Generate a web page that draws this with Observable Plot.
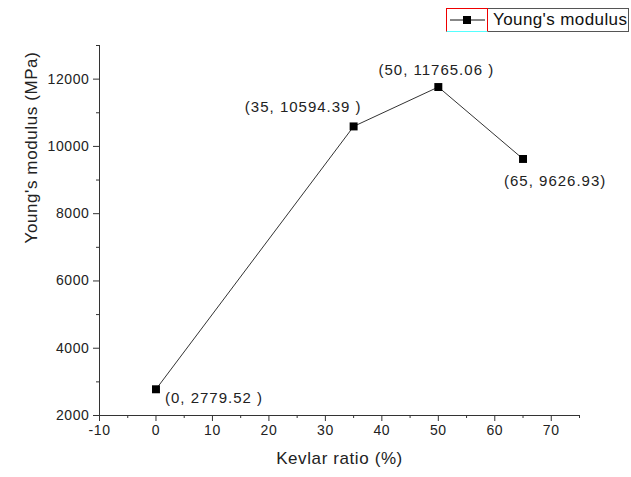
<!DOCTYPE html>
<html><head><meta charset="utf-8">
<script src="https://cdn.jsdelivr.net/npm/d3@7"></script>
<script src="https://cdn.jsdelivr.net/npm/@observablehq/plot@0.6"></script>
<style>
body{margin:0;background:#fff;}
#wrap{position:relative;width:631px;height:477px;font-family:"Liberation Sans",Arial,sans-serif;}
#legend{position:absolute;left:446px;top:8px;width:181px;height:22px;border:1px solid #555;background:#fff;white-space:nowrap;}
#legend .sw{position:absolute;left:-1px;top:-1px;width:42px;height:24px;border:1px solid #e00;border-bottom:1px solid #5ff;box-sizing:border-box;}
#legend .txt{position:absolute;left:46px;top:0;font-size:17px;color:#111;letter-spacing:0.4px;line-height:22px;}
</style></head><body>
<div id="wrap"><div id="chart"></div>
<div id="legend"><div class="sw"><svg width="40" height="22" style="position:absolute;left:0;top:0"><line x1="3" x2="38" y1="11" y2="11" stroke="#111" stroke-width="1"/><rect x="16" y="7" width="8" height="8" fill="#000"/></svg></div><div class="txt">Young's modulus</div></div>
</div>
<script>
const kevlarRatio = [0, 35, 50, 65];
const youngsModulus = [2779.52, 10594.39, 11765.06, 9626.93];
const pointLabels = ["(0, 2779.52 )", "(35, 10594.39 )", "(50, 11765.06 )", "(65, 9626.93)"];
const xTicks = [-10, 0, 10, 20, 30, 40, 50, 60, 70];
const xMinorTicks = [-5, 5, 15, 25, 35, 45, 55, 65, 75];
const yTicks = [2000, 4000, 6000, 8000, 10000, 12000];
const yMinorTicks = [3000, 5000, 7000, 9000, 11000, 13000];
const xTitle = "Kevlar ratio (%)";
const yTitle = "Young's modulus (MPa)";

const data = kevlarRatio.map((x, i) => ({x, y: youngsModulus[i], label: pointLabels[i]}));
const font = {fontSize: 15, fill: "#222"};
const fmt = d => String(d);

const chart = Plot.plot({
  width: 631, height: 477,
  marginLeft: 99, marginRight: 52, marginTop: 45, marginBottom: 62,
  style: {fontFamily: "'Liberation Sans', Arial, sans-serif", background: "#fff"},
  x: {domain: [-10, 75]},
  y: {domain: [2000, 13000]},
  marks: [
    Plot.axisX(xTicks, {tickSize: 6, tickPadding: 4, fontSize: 14, fill: "#222", stroke: "#333", label: null, tickFormat: fmt}),
    Plot.axisX(xMinorTicks, {tickSize: 3, tickFormat: () => "", stroke: "#333", label: null}),
    Plot.axisY(yTicks, {tickSize: 6, tickPadding: 4, fontSize: 14, fill: "#222", stroke: "#333", label: null, tickFormat: fmt}),
    Plot.axisY(yMinorTicks, {tickSize: 3, tickFormat: () => "", stroke: "#333", label: null}),
    Plot.ruleY([2000], {stroke: "#333"}),
    Plot.ruleX([-10], {stroke: "#333"}),
    Plot.line(data, {x: "x", y: "y", stroke: "#333", strokeWidth: 1}),
    Plot.dot(data, {x: "x", y: "y", symbol: "square", r: 4.5, fill: "#000", stroke: "none"}),
    Plot.text(data, {filter: (d, i) => i === 0, x: "x", y: "y", text: "label", textAnchor: "start", dx: 9, dy: 9, className: "ptlab", ...font}),
    Plot.text(data, {filter: (d, i) => i === 1, x: "x", y: "y", text: "label", textAnchor: "end", dx: 8, dy: -19, className: "ptlab", ...font}),
    Plot.text(data, {filter: (d, i) => i === 2, x: "x", y: "y", text: "label", textAnchor: "middle", dx: -2, dy: -17, className: "ptlab", ...font}),
    Plot.text(data, {filter: (d, i) => i === 3, x: "x", y: "y", text: "label", textAnchor: "start", dx: -19, dy: 22, className: "ptlab", ...font}),
    Plot.text([xTitle], {frameAnchor: "bottom", dy: 48, fontSize: 17, fill: "#222"}),
    Plot.text([yTitle], {frameAnchor: "left", rotate: -90, dx: -68, dy: 13, fontSize: 17, fill: "#222"})
  ]
});
chart.querySelectorAll("text").forEach(t => t.style.letterSpacing = "0.6px");
chart.querySelectorAll(".ptlab text").forEach(t => t.style.letterSpacing = "1px");
document.getElementById("chart").appendChild(chart);
</script>
</body></html>
